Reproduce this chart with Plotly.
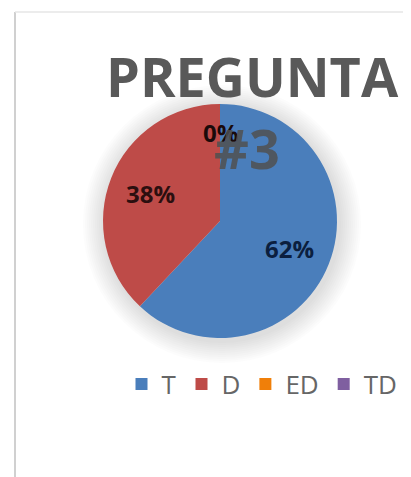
import plotly.graph_objects as go
import math

labels = ["T", "D", "ED", "TD"]
values = [62, 38, 0, 0]
colors = ["#4A7EBB", "#BE4B48", "#F07F09", "#7F5FA0"]
label_colors = ["#0B1F3F", "#2B0F0F", "#1A0A0A", "#1A0A0A"]
title_lines = ["PREGUNTA", "#3"]

# the page shows the figure offset by 8px (body margin); work in reference-pixel coords
OFF = 8
W, H = 411 - OFF, 477 - OFF


def px_x(x):
    return (x - OFF) / W


def px_y(y):
    return 1 - (y - OFF) / H


cx, cy, r = 220, 221, 117

fig = go.Figure()
fig.add_trace(go.Pie(
    labels=labels, values=values, sort=False, direction="clockwise", rotation=0,
    marker=dict(colors=colors, line=dict(color="white", width=0)),
    textinfo="none",
    domain=dict(x=[px_x(cx - r), px_x(cx + r)], y=[px_y(cy + r), px_y(cy - r)]),
    showlegend=True, hoverinfo="label+percent",
))

# percentage labels placed at each slice's mid-angle (computed from the data)
total = sum(values)
cum = 0
zero_done = False
for lab, v, lc in zip(labels, values, label_colors):
    if v == 0 and zero_done:
        cum += v
        continue
    mid = (cum + v / 2) / total * 2 * math.pi  # clockwise from top
    rr = (0.64 if v > 0 else 0.76) * r
    lx = cx + rr * math.sin(mid)
    ly = cy - rr * math.cos(mid)
    fig.add_annotation(x=px_x(lx), y=px_y(ly), xref="paper", yref="paper",
                       xanchor="center", yanchor="middle",
                       text="<b>%d%%</b>" % round(100 * v / total), showarrow=False,
                       font=dict(family="Open Sans", size=24, color=lc))
    if v == 0:
        zero_done = True
    cum += v

# soft shadow around the pie
shadow = []
for k in range(1, 12):
    rs = r + 2 * k
    shadow.append(dict(type="circle", xref="paper", yref="paper", layer="below",
                       x0=px_x(cx + 2 - rs), x1=px_x(cx + 2 + rs),
                       y0=px_y(cy + 3 + rs), y1=px_y(cy + 3 - rs),
                       fillcolor="rgba(120,120,120,0.022)", line=dict(width=0)))

# title lines as annotations (drawn above the pie)
fig.add_annotation(x=px_x(252), y=px_y(76), xref="paper", yref="paper", xanchor="center", yanchor="middle",
                   text="<b>" + title_lines[0] + "</b>",
                   showarrow=False, font=dict(family="Open Sans", size=54, color="#595959"))
fig.add_annotation(x=px_x(247), y=px_y(148), xref="paper", yref="paper", xanchor="center", yanchor="middle",
                   text="<b>" + title_lines[1] + "</b>",
                   showarrow=False, font=dict(family="Open Sans", size=54, color="rgba(80,80,80,0.85)"))

fig.update_layout(
    width=W, height=H, margin=dict(l=0, r=0, t=0, b=0, autoexpand=False),
    paper_bgcolor="white", plot_bgcolor="white",
    legend=dict(orientation="h", x=px_x(262), xanchor="center", y=px_y(384), yanchor="middle",
                font=dict(family="Open Sans", size=26, color="#666666"),
                itemwidth=30, traceorder="normal", bgcolor="rgba(0,0,0,0)"),
    shapes=shadow + [
        dict(type="line", xref="paper", yref="paper", x0=px_x(15), x1=px_x(15), y0=0, y1=px_y(12),
             line=dict(color="#D0D0D0", width=2)),
        dict(type="line", xref="paper", yref="paper", x0=px_x(15), x1=1, y0=px_y(12), y1=px_y(12),
             line=dict(color="#E6E6E6", width=1.5)),
    ],
)

fig.write_html("out.html")
